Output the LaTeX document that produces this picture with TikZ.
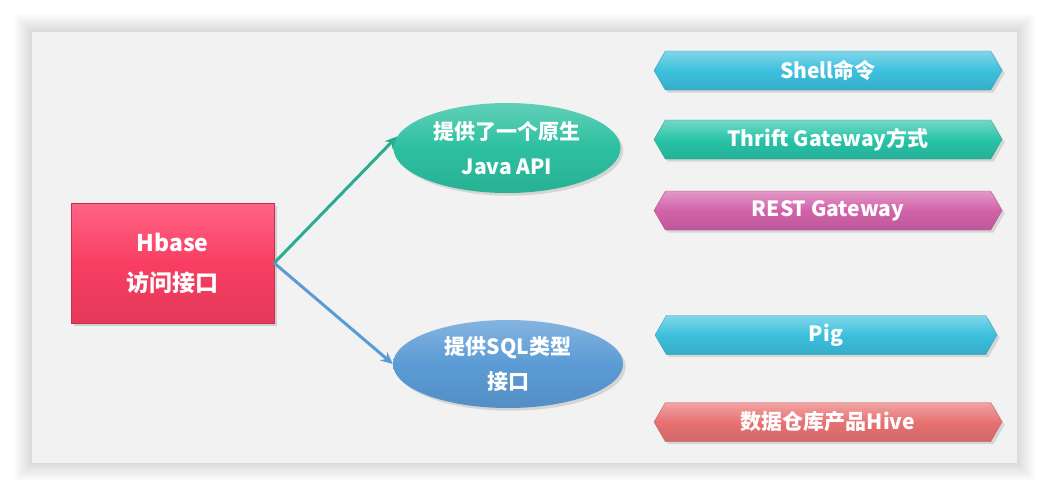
\documentclass[tikz,border=0pt]{standalone}
\usepackage{fontspec}
\setmainfont{Noto Sans CJK SC}
\usetikzlibrary{shapes.geometric,shapes.symbols,shadows,arrows.meta}

\definecolor{panelgray}{HTML}{F2F2F2}
\definecolor{hbred}{HTML}{F83E62}
\definecolor{hbtop}{HTML}{FF6486}
\definecolor{javateal}{HTML}{2CC0A0}
\definecolor{sqlblue}{HTML}{5B9BD5}
\definecolor{shellcyan}{HTML}{3CC0DE}
\definecolor{thriftgreen}{HTML}{28C4A8}
\definecolor{restpink}{HTML}{D262AA}
\definecolor{hivered}{HTML}{E87272}

\begin{document}
\begin{tikzpicture}[x=1pt,y=-1pt,
	box/.style={rectangle, minimum width=203pt, minimum height=120pt, inner sep=0pt,
		top color=hbtop, bottom color=hbred!92!black, middle color=hbred,
		draw=hbred!80!black, drop shadow={opacity=0.3},
		text=white, align=center, font=\bfseries\fontsize{23}{40}\selectfont},
	oval/.style={ellipse, inner sep=0pt, text=white, align=center,
		top color=#1!75!white, bottom color=#1!92!black, middle color=#1,
		drop shadow={opacity=0.25},
		font=\bfseries\fontsize{21}{35}\selectfont},
	tag/.style={signal, signal to=west and east, signal pointer angle=120,
		minimum width=348pt, minimum height=39pt, inner sep=0pt,
		top color=#1!65!white, bottom color=#1!90!black, middle color=#1,
		draw=#1!80!black, line width=0.3pt, drop shadow={opacity=0.25},
		text=white, font=\bfseries\fontsize{21}{24}\selectfont},
	link/.style={line width=3pt, -{Stealth[length=12pt,width=11pt]}}
	]
	\useasboundingbox (0,0) rectangle (1049,496);
	% panel with soft shadow
	\foreach \s in {1,...,18}
		\fill[black, opacity=0.008] (32-\s,32-\s) rectangle (1017+\s,463+\s);
	\fill[panelgray] (32,32) rectangle (1017,463);

	\node[box] (hb) at (172.5,263) {Hbase\\访问接口};
	\node[oval=javateal, minimum width=227pt, minimum height=90pt]
		(java) at (507,148) {提供了一个原生\\Java API};
	\node[oval=sqlblue, minimum width=230pt, minimum height=88pt]
		(sql) at (508,364) {提供SQL类型\\接口};

	\node[tag=shellcyan] (shell) at (828,70.5) {Shell命令};
	\node[tag=thriftgreen] (thrift) at (828,139.5) {Thrift Gateway方式};
	\node[tag=restpink] (rest) at (828,210.5) {REST Gateway};
	\node[tag=shellcyan, minimum width=342pt] (pig) at (826,335) {Pig};
	\node[tag=hivered] (hive) at (828,422) {数据仓库产品Hive};

	\draw[link, javateal!90!black] (hb.east) -- (java.174);
	\draw[link, sqlblue] (hb.east) -- (sql.west);
\end{tikzpicture}
\end{document}
